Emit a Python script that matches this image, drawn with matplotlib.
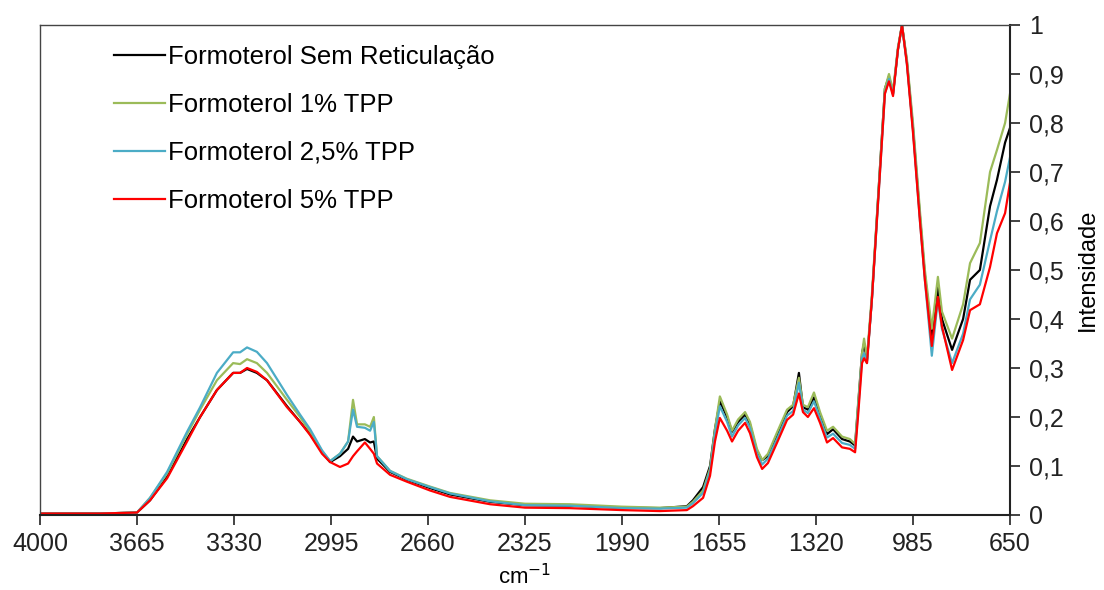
import numpy as np
import matplotlib.pyplot as plt
from matplotlib.ticker import FuncFormatter

plt.rcParams['font.family'] = ['Liberation Sans', 'DejaVu Sans']

# wavenumber grid (cm-1)
wn = [4000, 3793, 3665, 3620, 3561, 3492, 3447, 3389, 3333, 3309, 3285, 3251, 3216, 3147,
      3102, 3067, 3026, 2998, 2964, 2936, 2919, 2905, 2878, 2860, 2847, 2836, 2791, 2733,
      2653, 2584, 2446, 2325, 2170, 1990, 1859, 1766, 1745, 1710, 1686, 1669, 1652, 1627,
      1610, 1589, 1565, 1548, 1524, 1506, 1486, 1455, 1420, 1399, 1379, 1365, 1348, 1327,
      1306, 1282, 1261, 1230, 1203, 1185, 1175, 1161, 1154, 1144, 1127, 1099, 1082, 1068,
      1054, 1037, 1023, 1006, 985, 961, 944, 920, 899, 885, 850, 812, 788, 754, 719, 695,
      667, 650]

sem_ret = [0.003, 0.003, 0.005, 0.03, 0.078, 0.155, 0.2, 0.255, 0.29, 0.29, 0.298, 0.29, 0.275, 0.222,
           0.19, 0.165, 0.128, 0.108, 0.12, 0.135, 0.16, 0.15, 0.155, 0.148, 0.15, 0.115, 0.088, 0.072,
           0.055, 0.042, 0.027, 0.02, 0.019, 0.015, 0.014, 0.018, 0.03, 0.057, 0.1, 0.175, 0.232, 0.2,
           0.17, 0.19, 0.205, 0.185, 0.13, 0.112, 0.12, 0.16, 0.21, 0.222, 0.29, 0.22, 0.215, 0.24,
           0.205, 0.165, 0.175, 0.155, 0.15, 0.142, 0.22, 0.33, 0.35, 0.315, 0.44, 0.71, 0.87, 0.895,
           0.86, 0.95, 1.0, 0.925, 0.79, 0.61, 0.49, 0.365, 0.465, 0.4, 0.337, 0.4, 0.48, 0.5, 0.63, 0.684,
           0.76, 0.79]

tpp1 = [0.003, 0.003, 0.005, 0.035, 0.085, 0.165, 0.215, 0.275, 0.31, 0.308, 0.318, 0.31, 0.29, 0.235,
        0.2, 0.17, 0.13, 0.11, 0.125, 0.15, 0.235, 0.185, 0.185, 0.18, 0.2, 0.12, 0.09, 0.074,
        0.058, 0.045, 0.03, 0.023, 0.022, 0.017, 0.015, 0.017, 0.027, 0.05, 0.095, 0.175, 0.242, 0.205,
        0.172, 0.195, 0.21, 0.19, 0.135, 0.112, 0.125, 0.168, 0.215, 0.225, 0.28, 0.225, 0.22, 0.25,
        0.21, 0.172, 0.18, 0.16, 0.155, 0.145, 0.225, 0.33, 0.36, 0.32, 0.45, 0.71, 0.87, 0.9,
        0.865, 0.955, 1.0, 0.93, 0.8, 0.62, 0.5, 0.38, 0.486, 0.415, 0.36, 0.43, 0.514, 0.555, 0.7, 0.745,
        0.8, 0.86]

tpp25 = [0.003, 0.003, 0.005, 0.035, 0.088, 0.17, 0.22, 0.29, 0.332, 0.332, 0.342, 0.333, 0.31, 0.245,
         0.205, 0.175, 0.132, 0.11, 0.125, 0.15, 0.215, 0.18, 0.178, 0.172, 0.19, 0.12, 0.09, 0.073,
         0.057, 0.044, 0.028, 0.02, 0.019, 0.014, 0.013, 0.015, 0.024, 0.045, 0.09, 0.165, 0.222, 0.19,
         0.16, 0.183, 0.198, 0.178, 0.125, 0.103, 0.115, 0.155, 0.203, 0.212, 0.27, 0.215, 0.208, 0.232,
         0.197, 0.158, 0.166, 0.147, 0.143, 0.135, 0.21, 0.32, 0.33, 0.31, 0.44, 0.7, 0.86, 0.89,
         0.858, 0.95, 1.0, 0.92, 0.785, 0.6, 0.48, 0.325, 0.44, 0.38, 0.31, 0.37, 0.44, 0.47, 0.56, 0.62,
         0.68, 0.73]

tpp5 = [0.003, 0.003, 0.005, 0.03, 0.075, 0.15, 0.2, 0.255, 0.29, 0.29, 0.3, 0.292, 0.275, 0.22,
        0.19, 0.163, 0.125, 0.108, 0.098, 0.105, 0.12, 0.13, 0.148, 0.135, 0.125, 0.105, 0.082, 0.068,
        0.05, 0.037, 0.022, 0.015, 0.014, 0.01, 0.008, 0.01, 0.018, 0.035, 0.08, 0.15, 0.198, 0.172,
        0.15, 0.172, 0.188, 0.167, 0.118, 0.094, 0.106, 0.147, 0.194, 0.205, 0.248, 0.21, 0.2, 0.218,
        0.188, 0.148, 0.157, 0.138, 0.135, 0.128, 0.2, 0.31, 0.32, 0.31, 0.44, 0.7, 0.86, 0.885,
        0.855, 0.95, 1.0, 0.92, 0.78, 0.6, 0.48, 0.345, 0.445, 0.385, 0.296, 0.357, 0.418, 0.43, 0.506, 0.575,
        0.616, 0.678]

labels = ['Formoterol Sem Reticulação', 'Formoterol 1% TPP', 'Formoterol 2,5% TPP', 'Formoterol 5% TPP']
colors = ['#000000', '#9BBB59', '#4BACC6', '#FF0000']
xticks = [4000, 3665, 3330, 2995, 2660, 2325, 1990, 1655, 1320, 985, 650]

fig = plt.figure(figsize=(11.04, 5.9), dpi=100)
ax = fig.add_axes([40/1104, 75/590, 970/1104, 490/590])

for y, lab, c in zip([sem_ret, tpp1, tpp25, tpp5], labels, colors):
    ax.plot(wn, y, color=c, lw=1.6, label=lab)

ax.set_xlim(4000, 650)
ax.set_ylim(0, 1)
ax.set_xticks(xticks)
ax.set_yticks(np.arange(0, 1.01, 0.1))
ax.yaxis.set_major_formatter(FuncFormatter(lambda v, p: ('%g' % round(v, 1)).replace('.', ',')))
ax.yaxis.tick_right()
ax.yaxis.set_label_position('right')
ax.tick_params(axis='both', direction='out', length=7, width=1.2, labelsize=18, colors='#222222')
ax.tick_params(axis='y', pad=7)
ax.tick_params(axis='x', pad=5)
for s in ['left', 'top']:
    ax.spines[s].set_color('#444444')
    ax.spines[s].set_linewidth(1.0)
for s in ['right', 'bottom']:
    ax.spines[s].set_color('#222222')
    ax.spines[s].set_linewidth(1.5)

ax.set_xlabel('cm$^{-1}$', fontsize=16, labelpad=6)
ax.set_ylabel('Intensidade', fontsize=17, labelpad=9)

ax.legend(loc='upper left', bbox_to_anchor=(0.063, 0.985), frameon=False, fontsize=18.5,
          handlelength=2.0, handletextpad=0.1, labelspacing=0.93, borderpad=0)

fig.savefig('out.png', dpi=100)
